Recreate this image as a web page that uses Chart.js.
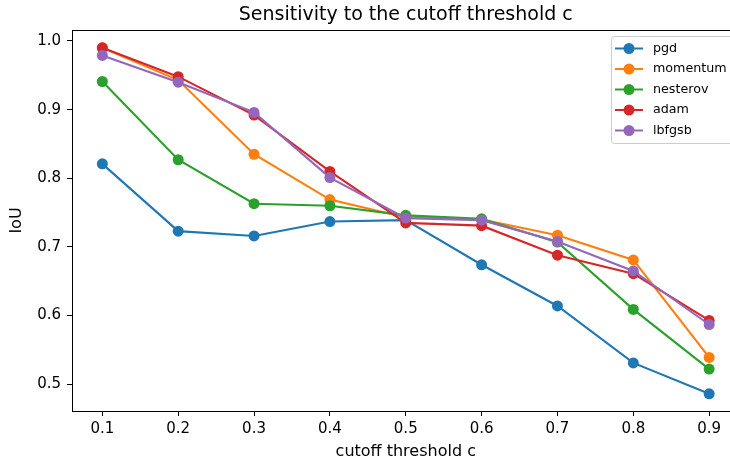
<!DOCTYPE html>
<html>
<head>
<meta charset="utf-8">
<script src="https://cdn.jsdelivr.net/npm/chart.js@4"></script>
<style>
  html, body { margin: 0; padding: 0; background: #fff; overflow: hidden; }
  #wrap { width: 730px; height: 466px; overflow: hidden; }
</style>
</head>
<body>
<div id="wrap"><canvas id="chart" width="745" height="466"></canvas></div>
<script>
// cutoff thresholds (x) and IoU per optimizer
const cutoffs = [0.1, 0.2, 0.3, 0.4, 0.5, 0.6, 0.7, 0.8, 0.9];
const pgd      = [0.821, 0.723, 0.716, 0.737, 0.739, 0.674, 0.614, 0.531, 0.486];
const momentum = [0.990, 0.943, 0.835, 0.769, 0.743, 0.740, 0.717, 0.681, 0.539];
const nesterov = [0.941, 0.827, 0.763, 0.760, 0.746, 0.741, 0.707, 0.609, 0.522];
const adam     = [0.990, 0.948, 0.892, 0.810, 0.735, 0.731, 0.688, 0.661, 0.593];
const lbfgsb   = [0.979, 0.940, 0.896, 0.801, 0.742, 0.739, 0.708, 0.665, 0.587];
const xTicks = [0.1, 0.2, 0.3, 0.4, 0.5, 0.6, 0.7, 0.8, 0.9];
const yTicks = [0.5, 0.6, 0.7, 0.8, 0.9, 1.0];

const seriesNames = ['pgd', 'momentum', 'nesterov', 'adam', 'lbfgsb'];
const seriesData = [pgd, momentum, nesterov, adam, lbfgsb];
const colors = ['#1f77b4', '#ff7f0e', '#2ca02c', '#d62728', '#9467bd'];

const FONT = 'DejaVu Sans';

const datasets = seriesNames.map((name, i) => ({
  label: name,
  data: cutoffs.map((c, j) => ({ x: c, y: seriesData[i][j] })),
  borderColor: colors[i],
  backgroundColor: colors[i],
  borderWidth: 2.1,
  pointRadius: 5.5,
  pointHoverRadius: 5.5,
  pointBorderWidth: 0,
  tension: 0,
  order: seriesNames.length - i  // later series on top, like matplotlib
}));

// axes box (top/right spines) + legend box in the upper right
const boxAndLegend = {
  id: 'boxAndLegend',
  afterDatasetsDraw (chart) {
    const ctx = chart.ctx;
    const a = chart.chartArea;
    ctx.save();
    ctx.strokeStyle = '#000';
    ctx.lineWidth = 1;
    ctx.strokeRect(Math.round(a.left) + 0.5, Math.round(a.top) + 0.5,
      Math.round(a.right - a.left), Math.round(a.bottom - a.top));

    const lx = 611, ly = 36, lw = 135, lh = 107;
    ctx.beginPath();
    ctx.roundRect(lx + 0.5, ly + 0.5, lw, lh, 3);
    ctx.fillStyle = 'rgba(255,255,255,0.8)';
    ctx.fill();
    ctx.strokeStyle = '#cccccc';
    ctx.stroke();

    ctx.font = '12.7px "' + FONT + '"';
    ctx.textBaseline = 'middle';
    ctx.textAlign = 'left';
    chart.data.datasets.forEach((ds, i) => {
      const y = 48.5 + i * 20.5;
      ctx.strokeStyle = ds.borderColor;
      ctx.lineWidth = 2;
      ctx.beginPath();
      ctx.moveTo(615, y);
      ctx.lineTo(643, y);
      ctx.stroke();
      ctx.fillStyle = ds.backgroundColor;
      ctx.beginPath();
      ctx.arc(629, y, 5.5, 0, Math.PI * 2);
      ctx.fill();
      ctx.fillStyle = '#000';
      ctx.fillText(ds.label, 653, y);
    });
    ctx.restore();
  }
};

new Chart(document.getElementById('chart'), {
  type: 'line',
  data: { datasets },
  plugins: [boxAndLegend],
  options: {
    responsive: false,
    devicePixelRatio: 1,
    animation: false,
    layout: { padding: { top: 0, right: 1, left: 0, bottom: 0 } },
    plugins: {
      legend: { display: false },
      tooltip: { enabled: false },
      title: {
        display: true,
        text: 'Sensitivity to the cutoff threshold c',
        fullSize: false,
        color: '#000',
        font: { family: FONT, size: 19, weight: 'normal', lineHeight: 1.2 },
        padding: { top: 3.6, bottom: 3.6 }
      }
    },
    scales: {
      x: {
        type: 'linear',
        min: 0.06,
        max: 0.94,
        afterFit: (scale) => { scale.height = 55; },
        afterBuildTicks: (scale) => { scale.ticks = xTicks.map(v => ({ value: v })); },
        ticks: {
          color: '#000',
          font: { family: FONT, size: 15 },
          padding: 4,
          maxRotation: 0,
          autoSkip: false,
          callback: (v) => v.toFixed(1)
        },
        grid: { drawOnChartArea: false, drawTicks: true, tickLength: 5, color: '#000' },
        border: { display: true, color: '#000', width: 1 },
        title: {
          display: true,
          text: 'cutoff threshold c',
          color: '#000',
          font: { family: FONT, size: 16, lineHeight: 1.2 },
          padding: { top: 0, bottom: 5 }
        }
      },
      y: {
        type: 'linear',
        min: 0.461,
        max: 1.016,
        afterFit: (scale) => { scale.width = 72; },
        afterBuildTicks: (scale) => { scale.ticks = yTicks.map(v => ({ value: v })); },
        ticks: {
          color: '#000',
          font: { family: FONT, size: 15 },
          padding: 6,
          callback: (v) => v.toFixed(1)
        },
        grid: { drawOnChartArea: false, drawTicks: true, tickLength: 5, color: '#000' },
        border: { display: true, color: '#000', width: 1 },
        title: {
          display: true,
          text: 'IoU',
          color: '#000',
          font: { family: FONT, size: 16, lineHeight: 1.2 },
          padding: { top: 7.4, bottom: 0 }
        }
      }
    }
  }
});
</script>
</body>
</html>
